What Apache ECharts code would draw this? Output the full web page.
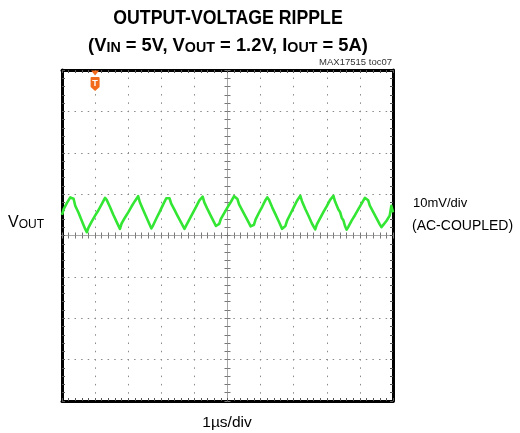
<!DOCTYPE html>
<html>
<head>
<meta charset="utf-8">
<script src="https://cdn.jsdelivr.net/npm/echarts@6/dist/echarts.min.js"></script>
<style>
html,body{margin:0;padding:0;background:#fff;}
#chart{width:520px;height:433px;}
</style>
</head>
<body>
<div id="chart"></div>
<script>
// ---- data ----
const titleLine1 = 'OUTPUT-VOLTAGE RIPPLE';
const partLabel = 'MAX17515 toc07';
const xScaleLabel = '1\u00b5s/div';
const yScaleLabel = '10mV/div';
const couplingLabel = '(AC-COUPLED)';
const timeRange = [-5, 5];          // µs, 1 µs/div
const voltRange = [-40, 40];        // mV, 10 mV/div
const timeStart = -5;               // µs, first sample
const timeStep = 0.05;              // µs between samples
const triggerTime = -4;             // µs
// VOUT ripple, mV (AC coupled), one value every 0.05 µs
const ripple = [
  5.0,6.4,6.5,7.9,7.8,9.2,9.1,8.9,7.2,6.9,
  5.5,5.1,3.5,3.3,1.6,0.8,1.9,2.0,3.4,3.5,
  4.8,4.9,6.1,6.3,7.6,7.7,9.1,8.6,8.3,6.9,
  6.5,5.0,4.8,3.3,3.0,1.6,2.9,2.9,4.3,4.4,
  5.6,5.6,7.0,7.0,8.3,8.4,9.5,8.1,7.8,6.2,
  5.9,4.4,4.1,2.6,1.7,2.4,2.6,4.1,4.3,5.7,
  6.0,7.4,7.6,9.0,9.3,9.0,7.7,7.5,6.2,5.9,
  4.6,4.5,3.1,2.9,1.6,2.4,2.5,3.9,4.2,5.4,
  5.7,6.9,7.2,8.5,8.7,9.4,8.0,7.7,6.3,6.0,
  4.7,4.4,3.1,2.3,2.7,2.8,4.0,4.2,5.4,5.6,
  6.8,6.9,8.1,8.3,9.5,9.1,8.8,7.5,7.3,6.0,
  5.7,4.5,4.2,3.0,2.2,2.3,2.6,3.9,4.1,5.5,
  5.8,7.0,7.3,8.6,9.2,8.7,8.3,6.8,6.5,5.1,
  4.8,3.4,3.0,1.6,1.9,2.3,3.6,3.9,5.2,5.5,
  6.8,7.1,8.4,8.7,9.6,8.3,7.9,6.4,6.1,4.7,
  4.3,2.9,2.5,1.5,2.7,3.0,4.2,4.4,5.7,5.9,
  7.1,7.4,8.6,8.8,9.6,8.2,7.8,6.3,5.7,4.3,
  3.7,2.3,1.4,2.1,2.4,3.6,3.8,4.9,5.1,6.3,
  6.5,7.7,7.9,9.1,8.7,8.5,7.2,6.9,5.7,5.4,
  4.2,3.9,2.7,2.0,2.5,2.6,3.5,3.8,4.8,7.2,
  5.6
];

const seriesData = ripple.map((v, i) => [timeStart + i * timeStep, v]);

const chart = echarts.init(document.getElementById('chart'), null, {renderer: 'canvas'});

const SANS = '"Liberation Sans", Arial, sans-serif';

function borderX(pos, withSplit) {
  return {
    type: 'value', position: pos, min: timeRange[0], max: timeRange[1], interval: 1,
    axisLine: {show: true, onZero: false, lineStyle: {color: '#000', width: 3}},
    axisTick: {show: true, inside: true, length: 3, lineStyle: {color: '#555', width: 1}},
    minorTick: {show: true, splitNumber: 5, length: 3, lineStyle: {color: '#555', width: 1}},
    axisLabel: {show: false},
    splitLine: {show: withSplit, lineStyle: {color: '#8a8a8a', width: 1, type: [1.5, 6.78], dashOffset: 0.75}}
  };
}
function borderY(pos, withSplit) {
  return {
    type: 'value', position: pos, min: voltRange[0], max: voltRange[1], interval: 10,
    axisLine: {show: true, onZero: false, lineStyle: {color: '#000', width: 3}},
    axisTick: {show: true, inside: true, length: 3, lineStyle: {color: '#555', width: 1}},
    minorTick: {show: true, splitNumber: 5, length: 3, lineStyle: {color: '#555', width: 1}},
    axisLabel: {show: false},
    splitLine: {show: withSplit, lineStyle: {color: '#8a8a8a', width: 1, type: [1.5, 5.12], dashOffset: 0.75}}
  };
}
function centerX(inside) {
  return {
    type: 'value', position: 'bottom', min: timeRange[0], max: timeRange[1], interval: 1,
    axisLine: {show: true, onZero: true, onZeroAxisIndex: 0, lineStyle: {color: '#a8a8a8', width: 1}},
    axisTick: {show: true, inside: inside, length: 3, lineStyle: {color: '#777', width: 1}},
    minorTick: {show: true, splitNumber: 5, length: 3, lineStyle: {color: '#777', width: 1}},
    axisLabel: {show: false}, splitLine: {show: false}
  };
}
function centerY(inside) {
  return {
    type: 'value', position: 'left', min: voltRange[0], max: voltRange[1], interval: 10,
    axisLine: {show: true, onZero: true, onZeroAxisIndex: 0, lineStyle: {color: '#a8a8a8', width: 1}},
    axisTick: {show: true, inside: inside, length: 3, lineStyle: {color: '#777', width: 1}},
    minorTick: {show: true, splitNumber: 5, length: 3, lineStyle: {color: '#777', width: 1}},
    axisLabel: {show: false}, splitLine: {show: false}
  };
}

const option = {
  animation: false,
  backgroundColor: '#fff',
  grid: {left: 62, top: 70, width: 331, height: 331, containLabel: false},
  xAxis: [borderX('bottom', true), borderX('top', false), centerX(false), centerX(true)],
  yAxis: [borderY('left', true), borderY('right', false), centerY(false), centerY(true)],
  series: [{
    type: 'line', xAxisIndex: 0, yAxisIndex: 0,
    data: seriesData, showSymbol: false, symbol: 'none',
    lineStyle: {color: '#33e633', width: 2.6, join: 'round'},
    z: 5,
    markPoint: {
      silent: true,
      animation: false,
      data: [
        {coord: [triggerTime, voltRange[1]], symbol: 'triangle', symbolRotate: 180, symbolSize: [8, 5], symbolOffset: [0, 3],
         itemStyle: {color: '#f26a1b'}, label: {show: false}},
        {coord: [triggerTime, voltRange[1]], symbol: 'path://M1,0 L9,0 Q10,0 10,1 L10,10 L5,14 L0,10 L0,1 Q0,0 1,0 Z',
         symbolSize: [9, 14], symbolOffset: [0, 14], itemStyle: {color: '#f26a1b'},
         label: {show: true, formatter: 'T', color: '#fff', fontSize: 9, fontWeight: 'bold', fontFamily: SANS, position: 'inside'}}
      ]
    }
  }],
  graphic: [
    {type: 'text', x: 228, y: 28.5, scaleX: 0.885, style: {text: titleLine1, font: 'bold 20px ' + SANS, fill: '#000', align: 'center', verticalAlign: 'bottom'}},
    {type: 'text', x: 228, y: 55, scaleX: 1.02, style: {
      text: '{a|(V}{s|IN}{a| = 5V, V}{s|OUT}{a| = 1.2V, I}{s|OUT}{a| = 5A)}',
      align: 'center', verticalAlign: 'bottom',
      rich: {
        a: {fontFamily: SANS, fontWeight: 'bold', fontSize: 18, lineHeight: 18, fill: '#000', verticalAlign: 'bottom'},
        s: {fontFamily: SANS, fontWeight: 'bold', fontSize: 14, lineHeight: 12, fill: '#000', verticalAlign: 'bottom'}
      }
    }},
    {type: 'text', x: 392, y: 67, style: {text: partLabel, font: '9.5px ' + SANS, fill: '#333', align: 'right', verticalAlign: 'bottom'}},
    {type: 'text', x: 8, y: 222, style: {
      text: '{v|V}{s|OUT}', align: 'left', verticalAlign: 'middle',
      rich: {
        v: {fontFamily: SANS, fontSize: 16, lineHeight: 18, fill: '#000', verticalAlign: 'bottom'},
        s: {fontFamily: SANS, fontSize: 12, lineHeight: 14, fill: '#000', verticalAlign: 'bottom'}
      }
    }},
    {type: 'text', x: 413, y: 203, style: {text: yScaleLabel, font: '13px ' + SANS, fill: '#000', align: 'left', verticalAlign: 'middle'}},
    {type: 'text', x: 412, y: 226, style: {text: couplingLabel, font: '14px ' + SANS, fill: '#000', align: 'left', verticalAlign: 'middle'}},
    {type: 'text', x: 227, y: 423, style: {text: xScaleLabel, font: '15.5px ' + SANS, fill: '#000', align: 'center', verticalAlign: 'middle'}}
  ]
};
chart.setOption(option);
</script>
</body>
</html>
